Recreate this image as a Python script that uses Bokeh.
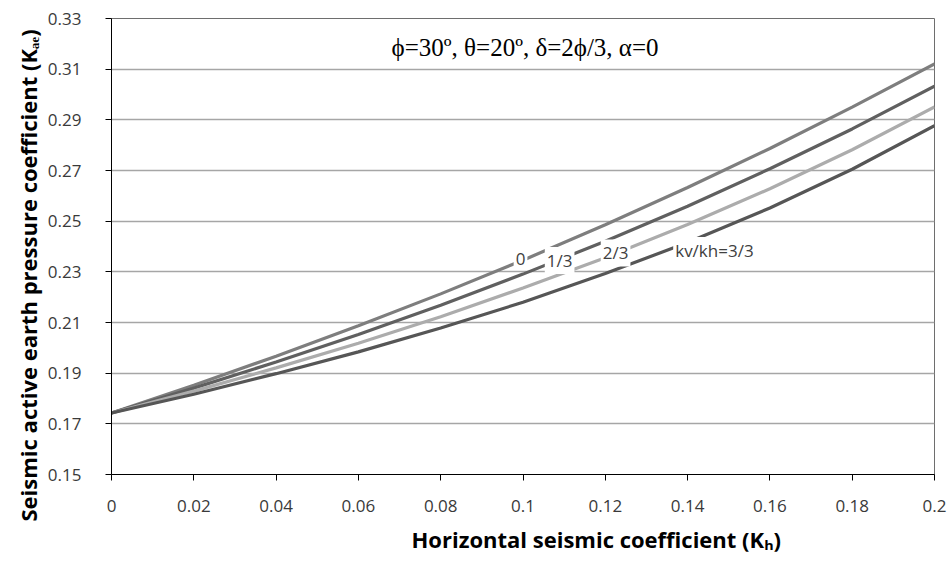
import numpy as np
from bokeh.plotting import figure
from bokeh.models import Range1d, FixedTicker, Label, Title
from bokeh.embed import file_html
from bokeh.resources import INLINE

# ---- data ----
kh = [0.0, 0.02, 0.04, 0.06, 0.08, 0.10, 0.12, 0.14, 0.16, 0.18, 0.20]
kae_kv0 = [0.1743, 0.1852, 0.1967, 0.2087, 0.2213, 0.2346, 0.2486, 0.2633, 0.2787, 0.2950, 0.3121]
kae_kv13 = [0.1743, 0.1841, 0.1944, 0.2053, 0.2168, 0.2291, 0.2421, 0.2559, 0.2707, 0.2864, 0.3033]
kae_kv23 = [0.1743, 0.1829, 0.1921, 0.2018, 0.2123, 0.2236, 0.2356, 0.2487, 0.2628, 0.2782, 0.2951]
kae_kv33 = [0.1743, 0.1817, 0.1898, 0.1984, 0.2078, 0.2180, 0.2293, 0.2416, 0.2552, 0.2705, 0.2877]

curve_labels = ["0", "1/3", "2/3", "kv/kh=3/3"]
label_x = [0.0994, 0.1089, 0.1225, 0.1365]

x_ticks = [0.0, 0.02, 0.04, 0.06, 0.08, 0.10, 0.12, 0.14, 0.16, 0.18, 0.20]
x_tick_labels = ["0", "0.02", "0.04", "0.06", "0.08", "0.1", "0.12", "0.14", "0.16", "0.18", "0.2"]
y_ticks = [0.15, 0.17, 0.19, 0.21, 0.23, 0.25, 0.27, 0.29, 0.31, 0.33]
y_tick_labels = ["0.15", "0.17", "0.19", "0.21", "0.23", "0.25", "0.27", "0.29", "0.31", "0.33"]

title_text = "\u03d5=30\u00ba, \u03b8=20\u00ba, \u03b4=2\u03d5/3, \u03b1=0"
x_title = "Horizontal seismic coefficient (K\u2095)"
y_title = "Seismic active earth pressure coefficient (K\u2090\u2091)"

series = [kae_kv0, kae_kv13, kae_kv23, kae_kv33]
colors = ["#7e7e7e", "#606060", "#acacac", "#565656"]
label_dy = [0.0008, -0.0004, 0.0002, -0.0010]

FONT = "Open Sans"

p = figure(frame_width=823, frame_height=456,
           min_border_left=111, min_border_right=14, min_border_top=18, min_border_bottom=90,
           x_range=Range1d(0, 0.2), y_range=Range1d(0.15, 0.33),
           output_backend="svg", toolbar_location=None,
           background_fill_color="white", border_fill_color="white")

p.outline_line_color = "#6e6e6e"
p.outline_line_width = 1

p.xgrid.grid_line_color = None
p.ygrid.grid_line_color = "#a6a6a6"
p.ygrid.grid_line_width = 1.3

p.xaxis.ticker = FixedTicker(ticks=x_ticks)
p.yaxis.ticker = FixedTicker(ticks=y_ticks)
p.xaxis.major_label_overrides = {t: l for t, l in zip(x_ticks, x_tick_labels)}
p.yaxis.major_label_overrides = {t: l for t, l in zip(y_ticks, y_tick_labels)}

for ax in (p.xaxis, p.yaxis):
    ax.axis_line_color = "black"
    ax.axis_line_width = 1
    ax.major_tick_line_color = "black"
    ax.major_tick_in = 0
    ax.major_tick_out = 6
    ax.minor_tick_line_color = None
    ax.major_label_text_font = FONT
    ax.major_label_text_font_size = "17px"
    ax.major_label_text_color = "#3a3a3a"

p.xaxis.major_label_standoff = 19
p.yaxis.major_label_standoff = 24

for ys, c in zip(series, colors):
    p.line(kh, ys, line_color=c, line_width=3.2)

for i, txt in enumerate(curve_labels):
    align = "left" if i == 3 else "center"
    yv = float(np.interp(label_x[i], kh, series[i])) + label_dy[i]
    p.add_layout(Label(x=label_x[i], y=yv, text=txt, text_font=FONT,
                       text_font_size="17px", text_color="#404040",
                       text_align=align, text_baseline="middle",
                       background_fill_color="white", background_fill_alpha=1.0,
                       padding=2))

# chart annotation (inside plot area)
p.add_layout(Label(x=0.1005, y=0.3186, text=title_text, text_font="Liberation Serif",
                   text_font_size="25px", text_color="black", text_align="center",
                   text_baseline="middle"))

# axis titles, offset from the frame centre as in the reference
p.add_layout(Title(text=x_title, align="left", offset=300, standoff=14,
                   text_font=FONT, text_font_size="22px", text_font_style="bold",
                   text_color="black"), "below")
p.add_layout(Title(text=y_title, align="left", offset=-47, standoff=4,
                   text_font=FONT, text_font_size="22px", text_font_style="bold",
                   text_color="black"), "left")

open("out.html", "w").write(file_html(p, INLINE))
